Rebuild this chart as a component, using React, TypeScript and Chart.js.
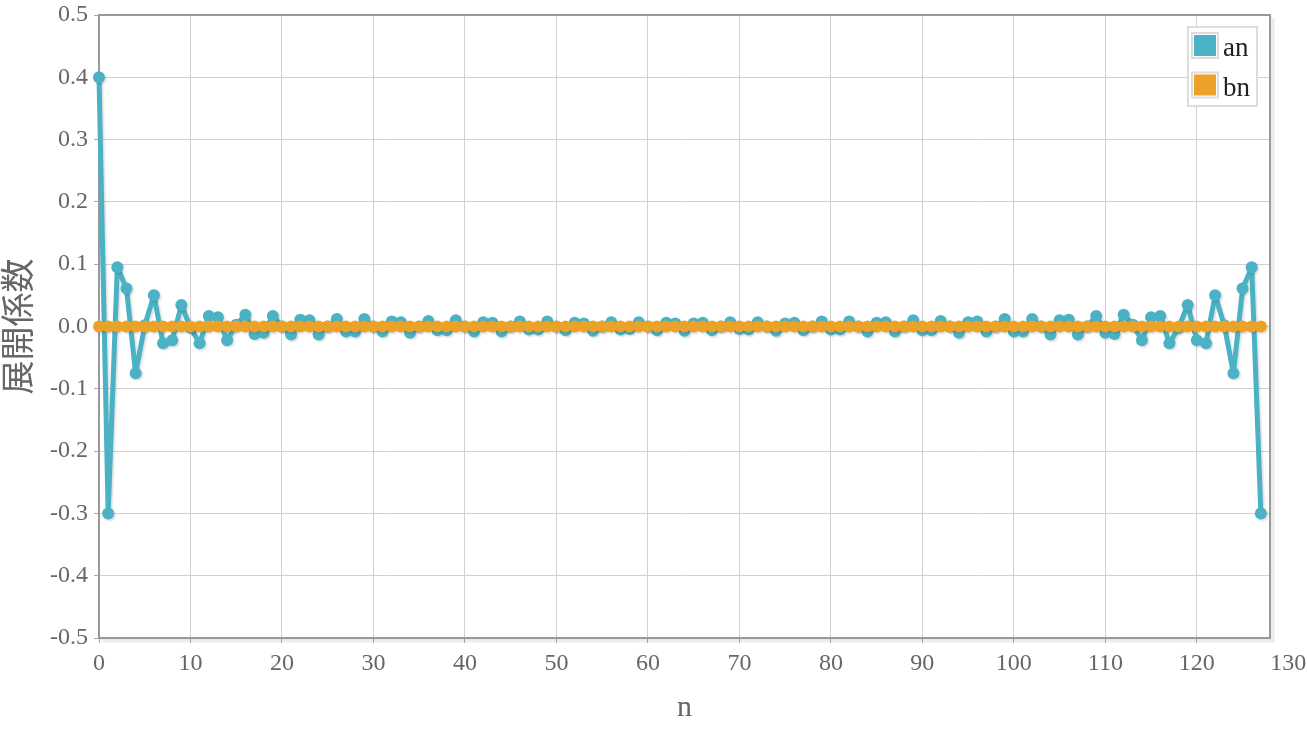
import React, { useEffect, useRef } from "react";
import { Chart, registerables } from "chart.js";

Chart.register(...registerables);

const N = [
  0, 1, 2, 3, 4, 5, 6, 7, 8, 9, 10, 11, 12, 13, 14, 15, 16, 17, 18, 19,
  20, 21, 22, 23, 24, 25, 26, 27, 28, 29, 30, 31, 32, 33, 34, 35, 36, 37, 38, 39,
  40, 41, 42, 43, 44, 45, 46, 47, 48, 49, 50, 51, 52, 53, 54, 55, 56, 57, 58, 59,
  60, 61, 62, 63, 64, 65, 66, 67, 68, 69, 70, 71, 72, 73, 74, 75, 76, 77, 78, 79,
  80, 81, 82, 83, 84, 85, 86, 87, 88, 89, 90, 91, 92, 93, 94, 95, 96, 97, 98, 99,
  100, 101, 102, 103, 104, 105, 106, 107, 108, 109, 110, 111, 112, 113, 114, 115, 116, 117, 118, 119,
  120, 121, 122, 123, 124, 125, 126, 127,
];

const AN = [
  0.4, -0.3, 0.095, 0.061, -0.075, 0.002, 0.05, -0.027, -0.022, 0.0345,
  -0.002, -0.027, 0.017, 0.015, -0.022, 0.003, 0.019, -0.012, -0.01, 0.017,
  0.0, -0.013, 0.011, 0.01, -0.013, 0.0, 0.012, -0.008, -0.008, 0.012,
  0.0, -0.008, 0.008, 0.007, -0.01, 0.0, 0.009, -0.006, -0.006, 0.01,
  0.0, -0.008, 0.007, 0.006, -0.008, 0.0, 0.008, -0.005, -0.005, 0.008,
  0.0, -0.006, 0.006, 0.005, -0.007, 0.0, 0.007, -0.005, -0.004, 0.007,
  0.0, -0.006, 0.006, 0.005, -0.007, 0.005, 0.006, -0.006, 0.0, 0.007,
  -0.004, -0.005, 0.007, 0.0, -0.007, 0.005, 0.006, -0.006, 0.0, 0.008,
  -0.005, -0.005, 0.008, 0.0, -0.008, 0.006, 0.007, -0.008, 0.0, 0.01,
  -0.006, -0.006, 0.009, 0.0, -0.01, 0.007, 0.008, -0.008, 0.0, 0.012,
  -0.008, -0.008, 0.012, 0.0, -0.013, 0.01, 0.011, -0.013, 0.0, 0.017,
  -0.01, -0.012, 0.019, 0.003, -0.022, 0.015, 0.017, -0.027, -0.002, 0.0345,
  -0.022, -0.027, 0.05, 0.002, -0.075, 0.061, 0.095, -0.3,
];

const BN = [
  0, 0, 0, 0, 0, 0, 0, 0, 0, 0, 0, 0, 0, 0, 0, 0, 0, 0, 0, 0,
  0, 0, 0, 0, 0, 0, 0, 0, 0, 0, 0, 0, 0, 0, 0, 0, 0, 0, 0, 0,
  0, 0, 0, 0, 0, 0, 0, 0, 0, 0, 0, 0, 0, 0, 0, 0, 0, 0, 0, 0,
  0, 0, 0, 0, 0, 0, 0, 0, 0, 0, 0, 0, 0, 0, 0, 0, 0, 0, 0, 0,
  0, 0, 0, 0, 0, 0, 0, 0, 0, 0, 0, 0, 0, 0, 0, 0, 0, 0, 0, 0,
  0, 0, 0, 0, 0, 0, 0, 0, 0, 0, 0, 0, 0, 0, 0, 0, 0, 0, 0, 0,
  0, 0, 0, 0, 0, 0, 0, 0,
];

const X_TICKS = [0, 10, 20, 30, 40, 50, 60, 70, 80, 90, 100, 110, 120, 130];
const Y_TICKS = [-0.5, -0.4, -0.3, -0.2, -0.1, 0, 0.1, 0.2, 0.3, 0.4, 0.5];
const SERIES_LABELS = ["an", "bn"];
const SERIES_COLORS = ["#4bb2c5", "#EAA228"];
const X_TITLE = "n";
const Y_TITLE = "展開係数";

const SERIF = "'Liberation Serif', 'Times New Roman', serif";

const framePlugin = {
  id: "frame",
  beforeDatasetsDraw(chart: any) {
    const { ctx, chartArea: a } = chart;
    ctx.save();
    for (let i = 1; i <= 3; i++) {
      ctx.strokeStyle = "rgba(0,0,0,0.07)";
      ctx.lineWidth = 1.5;
      ctx.beginPath();
      const o = i * 1.3;
      ctx.moveTo(a.right + o, a.top + o);
      ctx.lineTo(a.right + o, a.bottom + o);
      ctx.lineTo(a.left + o, a.bottom + o);
      ctx.stroke();
    }
    ctx.strokeStyle = "#999999";
    ctx.lineWidth = 2;
    ctx.strokeRect(a.left, a.top, a.right - a.left, a.bottom - a.top);
    ctx.restore();
  },
  beforeDatasetDraw(chart: any) {
    const ctx = chart.ctx;
    ctx.save();
    ctx.shadowColor = "rgba(0,0,0,0.14)";
    ctx.shadowOffsetX = 1.5;
    ctx.shadowOffsetY = 1.5;
    ctx.shadowBlur = 2;
  },
  afterDatasetDraw(chart: any) {
    chart.ctx.restore();
  },
  afterDraw(chart: any) {
    const { ctx, chartArea: a } = chart;
    const w = 69;
    const h = 79;
    const x = a.right - 13 - w;
    const y = a.top + 12;
    ctx.save();
    ctx.fillStyle = "#ffffff";
    ctx.fillRect(x, y, w, h);
    ctx.strokeStyle = "#dddddd";
    ctx.lineWidth = 2;
    ctx.strokeRect(x, y, w, h);
    SERIES_LABELS.forEach((label, i) => {
      const sy = y + 6 + i * 39.5;
      ctx.strokeStyle = "#dddddd";
      ctx.lineWidth = 2;
      ctx.strokeRect(x + 4, sy, 26, 25);
      ctx.fillStyle = SERIES_COLORS[i];
      ctx.fillRect(x + 6, sy + 2, 22, 21);
      ctx.fillStyle = "#222222";
      ctx.font = "27px " + SERIF;
      ctx.textAlign = "left";
      ctx.textBaseline = "alphabetic";
      ctx.fillText(label, x + 35, sy + 23);
    });
    ctx.restore();
  },
};

export default function App() {
  const canvasRef = useRef<HTMLCanvasElement | null>(null);

  useEffect(() => {
    document.body.style.margin = "0";
    const canvas = canvasRef.current;
    if (!canvas) return;
    const ds = (i: number, data: number[], order: number) => ({
      label: SERIES_LABELS[i],
      data,
      borderColor: SERIES_COLORS[i],
      backgroundColor: SERIES_COLORS[i],
      pointBackgroundColor: SERIES_COLORS[i],
      pointBorderWidth: 0,
      pointRadius: 6,
      borderWidth: 5,
      borderJoinStyle: "round" as const,
      borderCapStyle: "round" as const,
      tension: 0,
      clip: false as any,
      order,
    });
    const chart = new Chart(canvas, {
      type: "line",
      data: {
        labels: N,
        datasets: [ds(0, AN, 1), ds(1, BN, 0)],
      },
      options: {
        responsive: false,
        animation: false,
        layout: { padding: { top: 15, right: 37, left: 0, bottom: 0 } },
        plugins: {
          legend: { display: false },
          tooltip: { enabled: false },
        },
        scales: {
          x: {
            type: "linear",
            min: 0,
            max: 128,
            afterBuildTicks: (s: any) => {
              s.ticks = X_TICKS.map((v) => ({ value: v }));
            },
            afterFit: (s: any) => {
              s.height = 97;
              s.paddingLeft = 0;
              s.paddingRight = 0;
            },
            ticks: {
              autoSkip: false,
              maxRotation: 0,
              color: "#666666",
              font: { family: SERIF, size: 24 },
              padding: 6,
              callback: (v: any) => String(v),
            },
            grid: {
              color: (c: any) =>
                c.tick && c.tick.value > 128 ? "rgba(0,0,0,0)" : "#d0d0d0",
              tickColor: (c: any) =>
                c.tick && c.tick.value > 128 ? "rgba(0,0,0,0)" : "#aaaaaa",
              tickLength: 5,
              lineWidth: 1,
            },
            border: { display: false },
            title: {
              display: true,
              text: X_TITLE,
              color: "#666666",
              font: { family: SERIF, size: 30 },
              padding: { top: 0, bottom: 9 },
            },
          },
          y: {
            type: "linear",
            min: -0.5,
            max: 0.5,
            afterBuildTicks: (s: any) => {
              s.ticks = Y_TICKS.map((v) => ({ value: v }));
            },
            afterFit: (s: any) => {
              s.width = 99;
              s.paddingTop = 0;
              s.paddingBottom = 0;
            },
            ticks: {
              autoSkip: false,
              color: "#666666",
              font: { family: SERIF, size: 24 },
              padding: 6,
              callback: (v: any) => Number(v).toFixed(1),
            },
            grid: {
              color: "#d0d0d0",
              tickColor: "#aaaaaa",
              tickLength: 5,
              lineWidth: 1,
            },
            border: { display: false },
            title: {
              display: true,
              text: Y_TITLE,
              color: "#666666",
              font: { family: "'Noto Sans CJK JP', sans-serif", size: 34, lineHeight: 1 },
              padding: { top: 0, bottom: 0 },
            },
          },
        },
      },
      plugins: [framePlugin],
    });
    return () => chart.destroy();
  }, []);

  return (
    <div style={{ position: "fixed", left: 0, top: 0, width: 1307, height: 735, background: "#ffffff" }}>
      <canvas ref={canvasRef} width={1307} height={735} style={{ display: "block" }} />
    </div>
  );
}
